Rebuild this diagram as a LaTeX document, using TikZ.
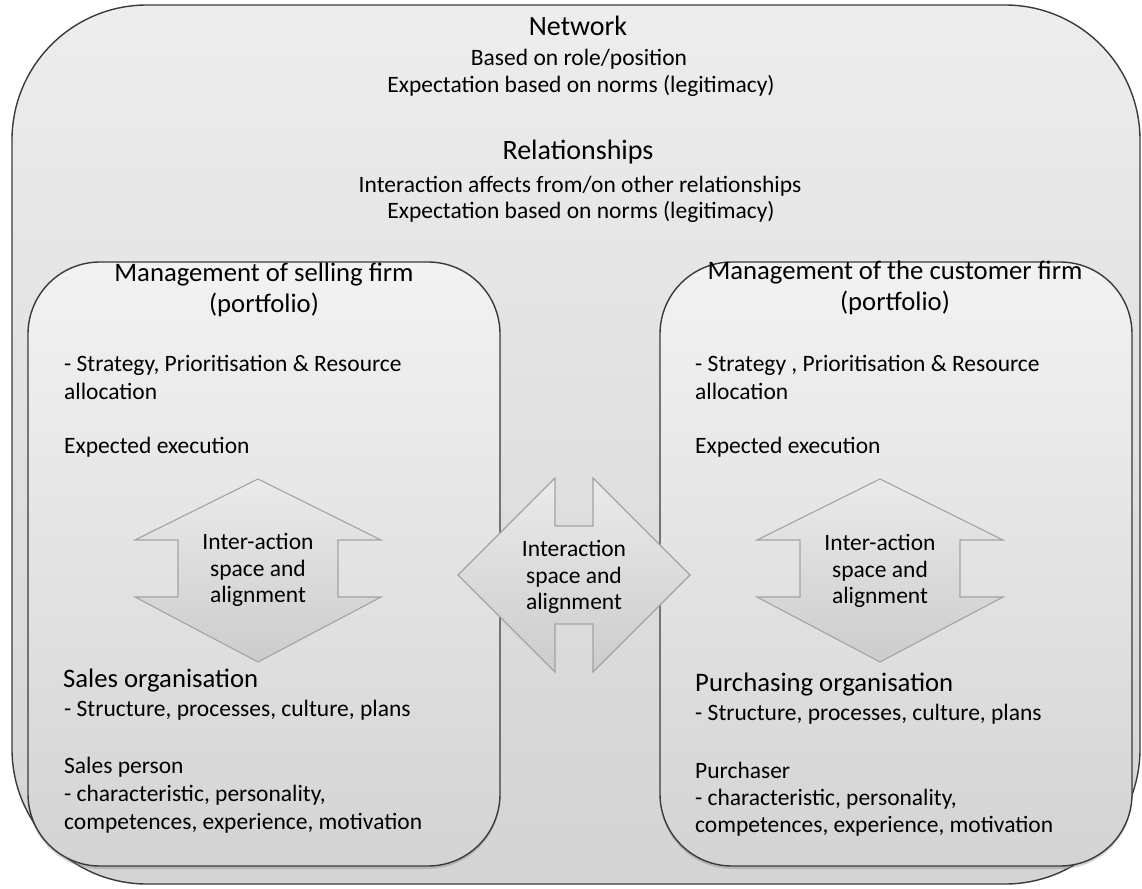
\documentclass[tikz,border=0pt]{standalone}
\usepackage{fontspec}
\setmainfont{Carlito}
\usetikzlibrary{shadows}
\definecolor{edge}{HTML}{3A3A3A}
\definecolor{arrowedge}{HTML}{A3A3A3}
\begin{document}
\begin{tikzpicture}[x=1pt,y=-1pt,
  outerbox/.style={draw=edge,line width=1.4pt,rounded corners=135pt,
    top color=white!93!black,bottom color=white!83!black},
  firmbox/.style={draw=edge,line width=1.4pt,rounded corners=72pt,
    top color=white!95!black,bottom color=white!83!black,
    drop shadow={shadow xshift=0pt,shadow yshift=-3pt,opacity=0.35}},
  arrowshape/.style={draw=arrowedge,line width=1.1pt,line join=miter,
    top color=white!92!black,bottom color=white!80!black},
  big/.style={font=\fontsize{28}{32}\selectfont},
  head/.style={font=\fontsize{26.7}{31}\selectfont},
  body/.style={font=\fontsize{23.5}{28}\selectfont},
  arrowtext/.style={font=\fontsize{23.5}{26.5}\selectfont,align=center},
  every node/.style={inner sep=0pt,text=black}]

\useasboundingbox (0,0) rectangle (1142,888);

% outer network frame
\path[outerbox] (12,5) rectangle (1140,884);

% the two firm panels
\path[firmbox] (28,262) rectangle (500,866);
\path[firmbox] (660,262) rectangle (1132,866);

% network and relationship headings
\node[big,anchor=mid] (network) at (578,33) {Network};
\node[body,anchor=mid] (net1) at (579,63) {Based on role/position};
\node[body,anchor=mid] (net2) at (581,90) {Expectation based on norms (legitimacy)};
\node[big,anchor=mid] (rel) at (578,157) {Relationships};
\node[body,anchor=mid] (rel1) at (580,190) {Interaction affects from/on other relationships};
\node[body,anchor=mid] (rel2) at (581,216) {Expectation based on norms (legitimacy)};

% selling firm
\node[head,anchor=mid] (sellhead) at (264,279) {Management of selling firm};
\node[head,anchor=mid] (sellport) at (264,310) {(portfolio)};
\node[body,anchor=mid west] (sell1) at (64,369) {- Strategy, Prioritisation \& Resource};
\node[body,anchor=mid west] (sell2) at (64,397) {allocation};
\node[body,anchor=mid west] (sell3) at (64,451) {Expected execution};
\node[head,anchor=mid west] (sellorg) at (63,685) {Sales organisation};
\node[body,anchor=mid west] (sellorg1) at (64,714) {- Structure, processes, culture, plans};
\node[body,anchor=mid west] (sellp) at (64,771) {Sales person};
\node[body,anchor=mid west] (sellp1) at (64,799) {- characteristic, personality,};
\node[body,anchor=mid west] (sellp2) at (64,827) {competences, experience, motivation};

% customer firm
\node[head,anchor=mid] (custhead) at (895,277) {Management of the customer firm};
\node[head,anchor=mid] (custport) at (895,308) {(portfolio)};
\node[body,anchor=mid west] (cust1) at (695,369) {- Strategy , Prioritisation \& Resource};
\node[body,anchor=mid west] (cust2) at (695,397) {allocation};
\node[body,anchor=mid west] (cust3) at (695,451) {Expected execution};
\node[head,anchor=mid west] (custorg) at (695,689) {Purchasing organisation};
\node[body,anchor=mid west] (custorg1) at (695,718) {- Structure, processes, culture, plans};
\node[body,anchor=mid west] (custp) at (695,776) {Purchaser};
\node[body,anchor=mid west] (custp1) at (695,803) {- characteristic, personality,};
\node[body,anchor=mid west] (custp2) at (695,830) {competences, experience, motivation};

% vertical double arrow inside the selling firm
\path[arrowshape] (258,479) -- (381,540) -- (338,540) -- (338,597) -- (381,597)
  -- (258,662) -- (135,597) -- (178,597) -- (178,540) -- (135,540) -- cycle;
\node[arrowtext] (sellarrow) at (258,570) {Inter-action\\space and\\alignment};

% vertical double arrow inside the customer firm
\path[arrowshape] (880,479) -- (1003,540) -- (960,540) -- (960,597) -- (1003,597)
  -- (880,662) -- (757,597) -- (800,597) -- (800,540) -- (757,540) -- cycle;
\node[arrowtext] (custarrow) at (880,571) {Inter-action\\space and\\alignment};

% horizontal double arrow between the firms
\path[arrowshape] (458,575) -- (555,478) -- (555,526) -- (593,526) -- (593,478)
  -- (690,575) -- (593,672) -- (593,624) -- (555,624) -- (555,672) -- cycle;
\node[arrowtext] (midarrow) at (574,577) {Interaction\\space and\\alignment};

\end{tikzpicture}
\end{document}
